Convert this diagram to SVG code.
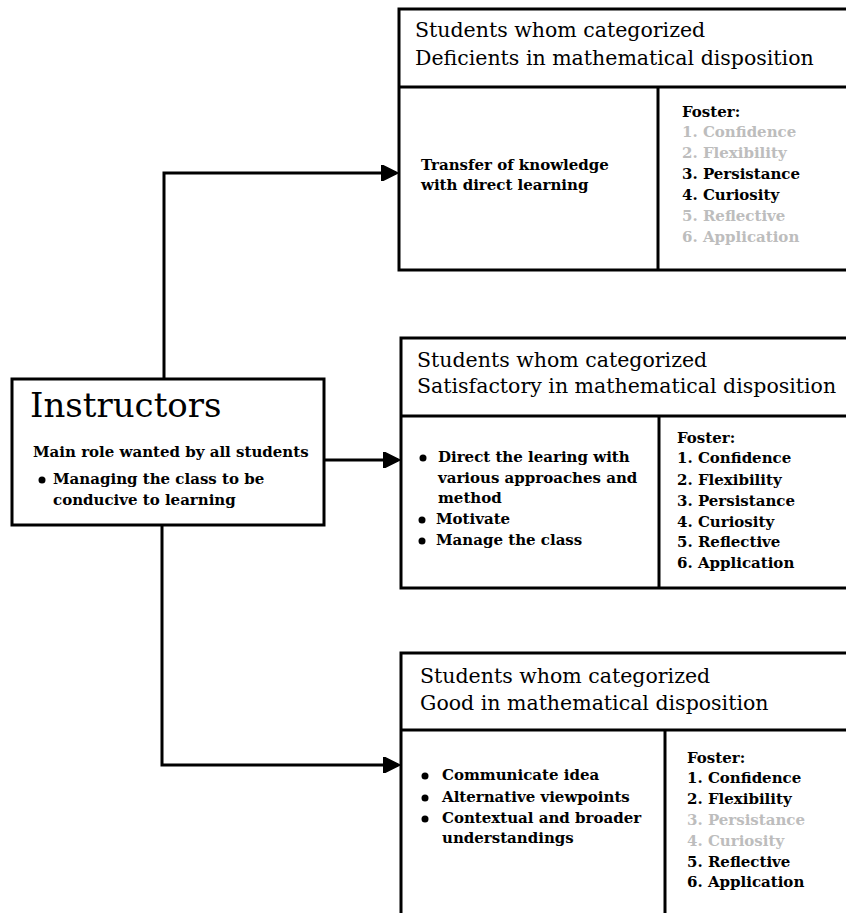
<svg xmlns="http://www.w3.org/2000/svg" width="846" height="913" viewBox="0 0 846 913">
<defs>
<marker id="arr" viewBox="0 0 10 10" refX="9" refY="5" markerWidth="5.5" markerHeight="5.5" orient="auto" markerUnits="strokeWidth">
<path d="M0,0 L10,5 L0,10 z" fill="#000" stroke="#000" stroke-width="1" stroke-linejoin="round"/>
</marker>
</defs>
<style>
.box{fill:#fff;stroke:#000;stroke-width:3}
.ln{fill:none;stroke:#000;stroke-width:3}
.hd{font-size:20.5px;fill:#000}
.t{font-size:15px;font-weight:bold;fill:#000}
.g{fill:#bdbdbd}
.big{font-size:34px;fill:#000}
.con{fill:none;stroke:#000;stroke-width:3}
</style>
<rect width="846" height="913" fill="#fff"/>
<g id="connectors">
<path class="con" d="M164,379 V173 H396" marker-end="url(#arr)"/>
<path class="con" d="M325,460 H398" marker-end="url(#arr)"/>
<path class="con" d="M162,525 V765 H398" marker-end="url(#arr)"/>
</g>
<g id="instructors" font-family="DejaVu Serif">
<rect class="box" x="12" y="379" width="312" height="146"/>
<text class="big" x="30" y="417">Instructors</text>
<text class="t" x="33" y="457">Main role wanted by all students</text>
<circle cx="42" cy="480" r="3.5"/>
<text class="t" x="53" y="484">Managing the class to be</text>
<text class="t" x="53" y="505">conducive to learning</text>
</g>
<g id="deficient" font-family="DejaVu Serif">
<rect class="box" x="399" y="9" width="460" height="261"/>
<line class="ln" x1="399" y1="87" x2="860" y2="87"/>
<line class="ln" x1="658" y1="87" x2="658" y2="270"/>
<text class="hd" x="415" y="37">Students whom categorized</text>
<text class="hd" x="415" y="65">Deficients in mathematical disposition</text>
<text class="t" x="421" y="170">Transfer of knowledge</text>
<text class="t" x="421" y="190">with direct learning</text>
<text class="t" x="682" y="117">Foster:</text>
<text class="t g" x="682" y="137">1. Confidence</text>
<text class="t g" x="682" y="158">2. Flexibility</text>
<text class="t" x="682" y="179">3. Persistance</text>
<text class="t" x="682" y="200">4. Curiosity</text>
<text class="t g" x="682" y="221">5. Reflective</text>
<text class="t g" x="682" y="242">6. Application</text>
</g>
<g id="satisfactory" font-family="DejaVu Serif">
<rect class="box" x="401" y="338" width="460" height="250"/>
<line class="ln" x1="401" y1="416" x2="862" y2="416"/>
<line class="ln" x1="659" y1="416" x2="659" y2="588"/>
<text class="hd" x="417" y="367">Students whom categorized</text>
<text class="hd" x="417" y="393">Satisfactory in mathematical disposition</text>
<circle cx="423" cy="458" r="3.5"/>
<text class="t" x="438" y="462">Direct the learing with</text>
<text class="t" x="438" y="483">various approaches and</text>
<text class="t" x="438" y="503">method</text>
<circle cx="422" cy="520" r="3.5"/>
<text class="t" x="436" y="524">Motivate</text>
<circle cx="422" cy="541" r="3.5"/>
<text class="t" x="436" y="545">Manage the class</text>
<text class="t" x="677" y="443">Foster:</text>
<text class="t" x="677" y="463">1. Confidence</text>
<text class="t" x="677" y="485">2. Flexibility</text>
<text class="t" x="677" y="506">3. Persistance</text>
<text class="t" x="677" y="527">4. Curiosity</text>
<text class="t" x="677" y="547">5. Reflective</text>
<text class="t" x="677" y="568">6. Application</text>
</g>
<g id="good" font-family="DejaVu Serif">
<rect class="box" x="401" y="653" width="460" height="280"/>
<line class="ln" x1="401" y1="730" x2="862" y2="730"/>
<line class="ln" x1="665" y1="730" x2="665" y2="930"/>
<text class="hd" x="420" y="683">Students whom categorized</text>
<text class="hd" x="420" y="710">Good in mathematical disposition</text>
<circle cx="425" cy="776" r="3.5"/>
<text class="t" x="442" y="780">Communicate idea</text>
<circle cx="425" cy="798" r="3.5"/>
<text class="t" x="442" y="802">Alternative viewpoints</text>
<circle cx="425" cy="819" r="3.5"/>
<text class="t" x="442" y="823">Contextual and broader</text>
<text class="t" x="442" y="843">understandings</text>
<text class="t" x="687" y="763">Foster:</text>
<text class="t" x="687" y="783">1. Confidence</text>
<text class="t" x="687" y="804">2. Flexibility</text>
<text class="t g" x="687" y="825">3. Persistance</text>
<text class="t g" x="687" y="846">4. Curiosity</text>
<text class="t" x="687" y="867">5. Reflective</text>
<text class="t" x="687" y="887">6. Application</text>
</g>
</svg>
